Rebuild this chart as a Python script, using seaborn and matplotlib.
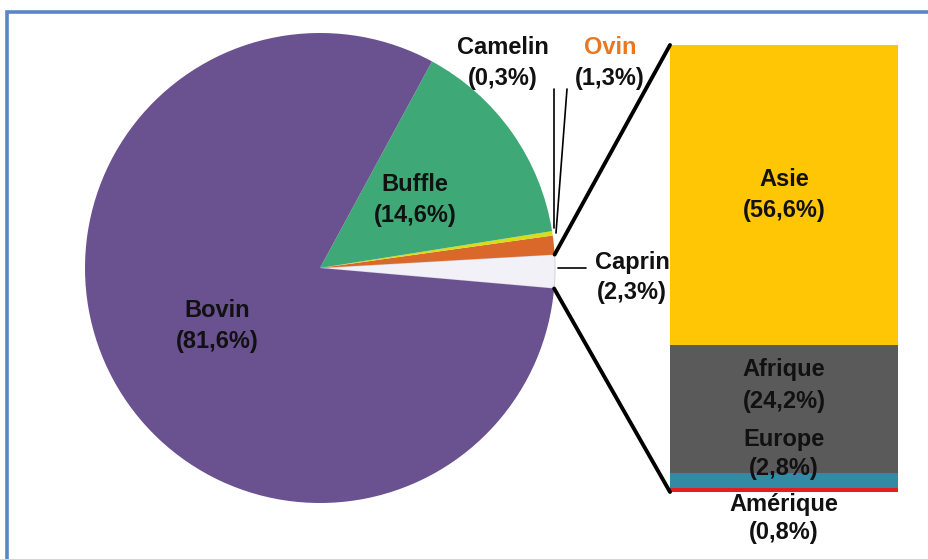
import matplotlib
matplotlib.use("Agg")
import matplotlib.pyplot as plt
from matplotlib.patches import ConnectionPatch
import numpy as np
import pandas as pd
import seaborn as sns

sns.set_style("white")
plt.rcParams["font.family"] = ["Liberation Sans", "DejaVu Sans"]

# Species shares (pie), listed counter-clockwise from the broken-out slice
species = ["Caprin", "Ovin", "Camelin", "Buffle", "Bovin"]
species_pct = [2.3, 1.3, 0.3, 14.6, 81.6]
species_labels = ["Caprin\n(2,3%)", "Ovin\n(1,3%)", "Camelin\n(0,3%)",
                  "Buffle\n(14,6%)", "Bovin\n(81,6%)"]
species_colors = ["#F3F1F8", "#D9682A", "#D8DC1A", "#3FA877", "#6A5190"]

# Regional split of the goat share (stacked bar, top to bottom)
regions = ["Asie", "Afrique", "Europe", "Amérique"]
region_pct = [56.6, 24.2, 2.8, 0.8]
region_labels = ["Asie\n(56,6%)", "Afrique\n(24,2%)", "Europe\n(2,8%)",
                 "Amérique\n(0,8%)"]
region_colors = ["#FFC606", "#5A5A5A", "#338AA5", "#E41E1E"]

W, H = 929, 559
fig = plt.figure(figsize=(W / 100, H / 100), dpi=100)


def px_axes(x0, y0, x1, y1, **kw):
    """Axes positioned with pixel coordinates measured from the top-left."""
    return fig.add_axes([x0 / W, 1 - y1 / H, (x1 - x0) / W, (y1 - y0) / H], **kw)


# Blue frame along the left and top edges
frame = px_axes(0, 0, W, H)
frame.set_xlim(0, W)
frame.set_ylim(H, 0)
frame.axis("off")
frame.plot([7, 7, W + 5], [H + 5, 12, 12], color="#5A86C5", lw=2.6,
           solid_joinstyle="miter")

# ---- Pie ----
cx, cy, r = 320, 268, 235
ax_pie = px_axes(cx - r, cy - r, cx + r, cy + r)
wedges, _ = ax_pie.pie(species_pct, colors=species_colors, startangle=-5,
                       counterclock=True, radius=1,
                       wedgeprops=dict(edgecolor="none"))
wedges[0].set_edgecolor("#D8D4E4")
wedges[0].set_linewidth(0.8)
ax_pie.set_xlim(-1, 1)
ax_pie.set_ylim(-1, 1)
ax_pie.set_aspect("equal")
ax_pie.axis("off")

txt = dict(fontsize=17, fontweight="bold", ha="center", va="center",
           linespacing=1.45)


def to_pie(px, py):
    return ((px - cx) / r, (cy - py) / r)


ax_pie.text(*to_pie(217, 326), species_labels[4], color="#111111", **txt)
ax_pie.text(*to_pie(415, 200), species_labels[3], color="#111111", **txt)

# Labels above the pie for the thin slices, joined by leader lines
frame.text(503, 47, "Camelin", color="#111111", **txt)
frame.text(503, 78, "(0,3%)", color="#111111", **txt)
frame.text(610, 47, "Ovin", color="#E87722", **txt)
frame.text(610, 78, "(1,3%)", color="#111111", **txt)
frame.text(632, 262, "Caprin", color="#111111", **txt)
frame.text(632, 293, "(2,3%)", color="#111111", **txt)
frame.plot([554, 554], [89, 228], color="black", lw=1.2)
frame.plot([567, 556], [89, 233], color="black", lw=1.2)
frame.plot([558, 586], [268, 268], color="black", lw=1.2)

# ---- Stacked bar ----
bx0, bx1, by0, by1 = 670, 898, 45, 492
ax_bar = px_axes(bx0, by0, bx1, by1)
# Cumulative totals from the bottom, drawn largest first so they stack
cum = np.cumsum(region_pct[::-1])[::-1]
bars = pd.DataFrame({"grp": ["Caprin"] * len(regions), "region": regions,
                     "cum": cum})
for i in range(len(regions)):
    sns.barplot(data=bars.iloc[[i]], x="grp", y="cum", color=region_colors[i],
                width=1.0, saturation=1, ax=ax_bar, edgecolor="none")
ax_bar.set_xlim(-0.5, 0.5)
ax_bar.set_ylim(0, cum[0])
ax_bar.axis("off")

bottoms = list(cum[1:]) + [0.0]
mids = [b + v / 2 for b, v in zip(bottoms, region_pct)]
ax_bar.text(0, mids[0], region_labels[0], color="#111111", **txt)
ax_bar.text(0, mids[1] + 4.4, region_labels[1], color="#111111", **txt)
# Small segments: labels sit on their thin segment and below the bar
small = {**txt, "linespacing": 1.3}
ax_bar.text(0, mids[2] + 5.0, region_labels[2], color="#111111", **small)
ax_bar.text(0, -5.0, region_labels[3], color="#111111", clip_on=False, **small)

# Connector lines from the Caprin slice edges to the bar corners
t1, t2 = np.radians(wedges[0].theta1), np.radians(wedges[0].theta2)
for theta, yb in [(t2, cum[0]), (t1, 0)]:
    con = ConnectionPatch(xyA=(np.cos(theta), np.sin(theta)), coordsA=ax_pie.transData,
                          xyB=(-0.5, yb), coordsB=ax_bar.transData,
                          color="black", lw=2.8)
    fig.add_artist(con)

fig.savefig("out.png", dpi=100)
